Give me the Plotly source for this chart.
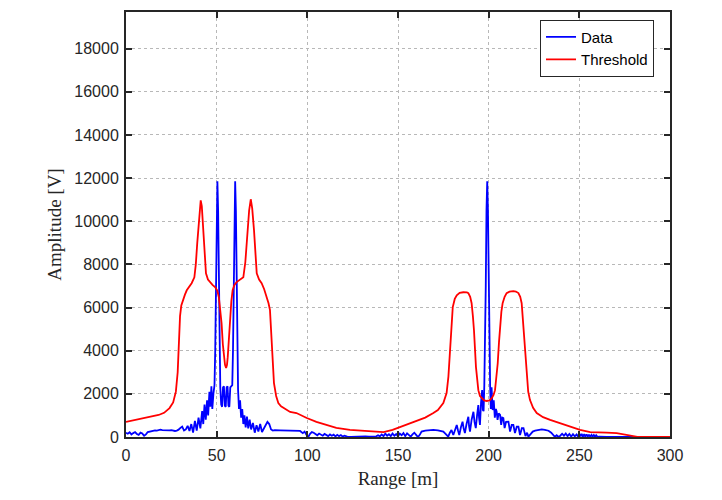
import plotly.graph_objects as go

# ---- Data ----
data_range = [0, 1, 2, 3, 4, 5, 6, 7, 8, 9, 10, 11, 12, 13, 14, 15, 16, 17, 18, 19,
              20, 21, 22, 23, 24, 25, 26, 27, 28, 29, 30, 31, 32, 33, 34, 35, 36, 37, 38, 39,
              40, 41, 42, 42.6, 43.3, 44, 44.7, 45.3, 46, 46.5, 47.1, 47.6, 48.2,
              48.8, 49.2, 49.6, 50.0, 50.4, 50.8, 51.2, 51.6, 52.0,
              52.5, 53.0, 53.5, 54.0, 54.5, 55.0, 55.5, 56.0, 56.5, 57.0, 57.5, 58.0, 58.6,
              59.0, 59.4, 59.8, 60.2, 60.6, 61.0, 61.4, 61.8,
              62.3, 62.9, 63.5, 64.1, 64.7, 65.3, 66.0, 66.7, 67.4, 68.2, 69.0, 70.0, 71.0,
              72.0, 73.0, 74.0, 75.0, 76.0, 77.0, 78.0, 79.0, 80.0, 81.0, 82, 85, 88, 91, 94, 96,
              97.5, 98.5, 99.5, 100.5, 101.5, 102.5, 103.5, 104.5, 105.5, 106.5, 107.5, 108.5,
              109.5, 110.5, 111.5, 112.5, 113.5, 114.5, 115.5, 116.5, 117.5, 118.5, 119.5, 120.5,
              122, 124, 126, 128, 130, 132, 134, 136, 138, 139, 140, 141, 142, 143, 144, 145,
              146, 147, 148, 149, 150, 151, 152, 153, 154, 155, 156, 157, 158, 159, 160, 161,
              162, 163, 165, 167, 169.5, 172, 175, 176.5, 177.7, 178.6, 179.5, 180.5, 181.5,
              182.4, 183.1, 183.8, 184.7, 185.6, 186.2, 186.9, 187.8, 188.8, 189.2, 189.7,
              190.6, 191.6, 192.2, 192.9, 193.6, 194.3, 194.7, 195.2, 195.8, 196.4, 196.8, 197.2,
              197.6, 198.0, 198.4, 198.8, 199.2, 199.6, 200.0, 200.4, 200.8,
              201.2, 201.6, 202.2, 202.8, 203.4, 204.0, 204.4, 204.9, 205.5, 206.3, 206.9,
              207.5, 208.1, 208.8, 209.6, 210.9, 211.8, 212.7, 213.6, 214.5, 215.5, 216.4,
              217.3, 218.3, 219.2, 220.3, 221.2, 221.9, 223, 224.3, 225.6, 227.5, 229.3, 231,
              233, 234.5, 235.7, 236.5, 237.5, 238.5, 239.5, 240.5, 241.5, 242.5, 243.5, 244.5,
              245.5, 246.5, 247.5, 248.5, 249.3, 250, 250.7, 251.3, 252, 252.7, 253.3, 254,
              254.7, 255.3, 256, 256.7, 257.3, 258, 258.7, 259.3, 260, 261, 265, 270, 275,
              280, 290, 300]
data_amp = [200, 150, 220, 120, 180, 230, 140, 100, 200, 160, 60, 120, 230, 250, 280, 300, 310, 300, 320, 340,
            320, 310, 330, 300, 310, 320, 300, 280, 300, 340, 420, 480, 300, 350, 520, 280, 600, 200, 750, 300,
            900, 400, 1200, 600, 1500, 800, 1700, 1000, 2100, 1400, 2350, 1300, 2000,
            2400, 4000, 7000, 10500, 11850, 10500, 7000, 4000, 2300,
            1500, 1400, 2300, 2350, 1450, 1400, 2300, 2350, 1450, 1400, 2300, 2350, 2400,
            4000, 7000, 10500, 11850, 10500, 7000, 4000, 2200,
            1300, 1700, 900, 1300, 600, 1000, 450, 950, 400, 800, 350, 650, 200,
            550, 250, 600, 230, 400, 500, 700, 600, 350, 300, 320, 310, 300, 300, 290, 280,
            180, 250, 100, 0, 150, 230, 200, 150, 80, 160, 120, 60,
            140, 90, 40, 120, 60, 110, 30, 100, 40, 90, 20, 60,
            20, 10, 20, 15, 20, 30, 20, 40, 30, 80, 30, 120, 40, 150, 60, 130,
            40, 160, 60, 140, 30, 160, 80, 180, 40, 170, 100, 20, 120, 200, 100, 0,
            100, 250, 300, 320, 330, 310, 250, 120, 15, 200, 320, 90, 400,
            560, 300, 90, 450, 710, 400, 185, 600, 940, 500, 250,
            800, 1170, 700, 410, 1000, 1480, 900, 560, 1600, 2180, 1250, 1200,
            2400, 4000, 7000, 10500, 11850, 10500, 7000, 4000, 2360,
            1300, 2300, 1250, 1700, 900, 1300, 1170, 790, 1100, 1020, 560,
            900, 880, 410, 700, 710, 250, 560, 560, 185, 480, 480,
            90, 410, 410, 40, 200, 15, 120, 250, 290, 330, 350, 330,
            290, 200, 90, 10, 80, 0, 60, 150, 60, 160, 40, 140,
            20, 130, 30, 120, 20, 150, 30, 140, 20, 130, 10, 120,
            20, 110, 10, 100, 20, 90, 10, 80, 10, 20, 10, 5, 5,
            0, 0, 0]

thr_range = [0, 5, 10, 14, 18, 21, 24, 26, 27.5, 28.5, 29.2, 29.8, 30.5, 31.2, 32.5, 33.5, 35,
             36.2, 37.7, 38.5, 39.3, 40.3, 41.2, 41.8, 42.6, 43.4, 44.1, 45.2, 46.3, 47.7, 49.1,
             50.3, 51.2, 52, 52.7, 53.4, 54, 54.6, 55.2, 55.7, 56.1, 56.8, 57.4, 58.1, 58.8,
             59.8, 61, 62.8, 64.7, 65.8, 66.9, 67.9, 68.8, 69.6, 70.6, 71.3, 72.1, 73.4, 74.8,
             76.2, 77.6, 78.6, 79.4, 80, 80.4, 81, 81.6, 82.8, 84, 85.5, 87, 90.5, 94, 97, 99.7,
             105, 110, 116, 123.5, 130, 136, 142, 147, 151, 154.8, 158, 162, 165, 169.5, 172,
             175, 176.8, 177.8, 178.7, 179.5, 180.2, 181.3, 182.4, 184, 186, 188, 188.8, 189.8,
             190.6, 191.3, 191.9, 193, 193.6, 194.3, 195.2, 196.2, 197.5, 198.9, 200.5, 201.7,
             202.7, 203.5, 204.3, 205, 205.7, 206.3, 207, 207.7, 208.8, 209.9, 211.5, 213.6,
             215, 216.4, 217.4, 218.2, 218.9, 219.5, 220.2, 221, 221.8, 222.8, 224.5, 226.5,
             230, 233.9, 238, 243, 247, 250.4, 256, 260, 265, 270.6, 274, 278, 282, 290, 300]
thr_amp = [700, 780, 860, 930, 1020, 1120, 1340, 1600, 2100, 3000, 4500, 5600, 6100, 6300, 6600, 6800, 7000,
           7130, 7400, 8000, 9000, 10300, 10970, 10700, 9720, 8300, 7590, 7300, 7180, 7050, 6950,
           6800, 6480, 5900, 5280, 4300, 3700, 3350, 3200, 3350, 3700, 4600, 5560, 6300, 6800,
           7050, 7180, 7300, 7400, 8100, 9440, 10500, 11020, 10600, 9580, 8500, 7590, 7300, 7130,
           6850, 6480, 6200, 5880, 5000, 4030, 3200, 2500, 1900, 1570, 1420, 1340, 1160, 1110, 980, 880,
           700, 560, 420, 330, 300, 250, 230, 330, 460, 560, 680, 790, 900, 1110, 1250,
           1570, 2040, 2800, 4030, 5200, 6020, 6400, 6570, 6680, 6710, 6700, 6670, 6500,
           6200, 5600, 4950, 3240, 2600, 2170, 1900, 1800, 1700, 1670, 1700, 1800,
           1950, 2170, 2700, 3420, 4400, 5280, 5800, 6200, 6500, 6670, 6740, 6760,
           6740, 6670, 6500, 6200, 5400, 4630, 3600, 2640, 2100, 1710, 1350, 1110,
           920, 790, 680, 560, 440, 330, 230, 230, 200, 180, 120, 50, 10, 0, 0]

x_ticks = [0, 50, 100, 150, 200, 250, 300]
x_tick_labels = ["0", "50", "100", "150", "200", "250", "300"]
y_ticks = [0, 2000, 4000, 6000, 8000, 10000, 12000, 14000, 16000, 18000]
y_tick_labels = ["0", "2000", "4000", "6000", "8000", "10000", "12000", "14000", "16000", "18000"]

fig = go.Figure()
fig.add_trace(go.Scatter(x=data_range, y=data_amp, mode="lines", name="Data",
                         line=dict(color="rgb(0,0,255)", width=1.8)))
fig.add_trace(go.Scatter(x=thr_range, y=thr_amp, mode="lines", name="Threshold",
                         line=dict(color="rgb(255,0,0)", width=1.8)))

axis_common = dict(
    showline=True, linecolor="#262626", linewidth=2, mirror="allticks",
    ticks="inside", ticklen=6, tickwidth=1.5, tickcolor="#262626",
    showgrid=True, gridcolor="#b8b8b8", griddash="dot", gridwidth=1,
    zeroline=False, automargin=False,
    tickfont=dict(family="Liberation Sans, Arial", size=16, color="#262626"),
)

fig.update_layout(
    width=722, height=500,
    margin=dict(l=118, r=60, t=4, b=71),
    paper_bgcolor="white", plot_bgcolor="white",
    showlegend=True,
    legend=dict(x=0.9706, y=0.982, xanchor="right", yanchor="top",
                bgcolor="white", bordercolor="#262626", borderwidth=1,
                font=dict(family="Liberation Sans, Arial", size=15, color="black"),
                tracegroupgap=0),
    xaxis=dict(range=[0, 300], tickvals=x_ticks, ticktext=x_tick_labels, ticklabelstandoff=3,
               title=dict(text="Range [m]", standoff=8,
                          font=dict(family="Liberation Serif, Times New Roman", size=19, color="#262626")),
               **axis_common),
    yaxis=dict(range=[0, 19700], tickvals=y_ticks, ticktext=y_tick_labels, ticklabelstandoff=2,
               title=dict(text="Amplitude [V]", standoff=8,
                          font=dict(family="Liberation Serif, Times New Roman", size=19, color="#262626")),
               **axis_common),
)

fig.write_html("out.html")
